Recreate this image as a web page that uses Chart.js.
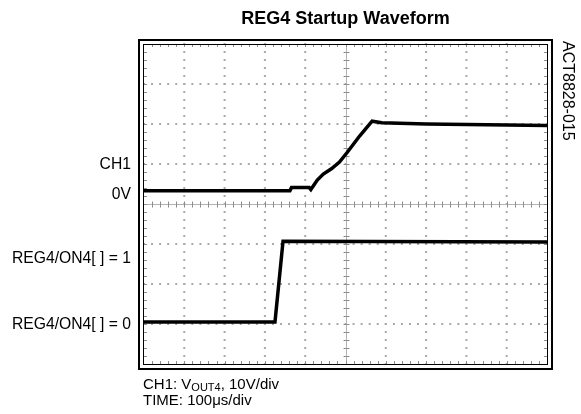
<!DOCTYPE html>
<html>
<head>
<meta charset="utf-8">
<script src="https://cdn.jsdelivr.net/npm/chart.js@4/dist/chart.umd.min.js"></script>
<style>
  html, body { margin: 0; padding: 0; background: #fff; }
  #wrap { width: 581px; height: 414px; position: relative; }
</style>
</head>
<body>
<div id="wrap"><canvas id="scopeChart"></canvas></div>
<script>
// time in divisions (100us/div), level in divisions
const ch1Time = [0, 3.62, 3.66, 4.1, 4.14, 4.3, 4.45, 4.65, 4.85, 5.05, 5.35, 5.66, 5.9, 7, 10];
const ch1Level = [0.33, 0.33, 0.41, 0.41, 0.36, 0.6, 0.75, 0.88, 1.05, 1.3, 1.7, 2.07, 2.03, 2.0, 1.96];
const onTime = [0, 3.25, 3.45, 10];
const onLevel = [-2.95, -2.95, -0.93, -0.95];

const titleText = 'REG4 Startup Waveform';
const leftLabels = [
    { text: 'CH1', level: 1.02 },
    { text: '0V', level: 0.27 },
    { text: 'REG4/ON4[ ] = 1', level: -1.32 },
    { text: 'REG4/ON4[ ] = 0', level: -2.98 }
];
const figureId = 'ACT8828-015';

const toPoints = (xs, ys) => xs.map((x, i) => ({ x: x, y: ys[i] }));
const FONT = '"Liberation Sans", Arial, sans-serif';

const scopePlugin = {
    id: 'scope',
    beforeDatasetsDraw(chart) {
        const ctx = chart.ctx;
        const xs = chart.scales.x, ys = chart.scales.y;
        const a = chart.chartArea;
        ctx.save();
        // dotted graticule
        ctx.fillStyle = '#a8a8a8';
        for (let i = 1; i < 10; i++) {
            if (i === 5) continue;
            const px = xs.getPixelForValue(i);
            for (let j = -20; j <= 20; j++) {
                const py = ys.getPixelForValue(j / 5);
                ctx.fillRect(px - 1, py - 1, 2, 2);
            }
        }
        for (let i = -3; i <= 3; i++) {
            if (i === 0) continue;
            const py = ys.getPixelForValue(i);
            for (let j = 0; j <= 50; j++) {
                const px = xs.getPixelForValue(j / 5);
                ctx.fillRect(px - 1, py - 1, 2, 2);
            }
        }
        // centre cross with minor ticks
        const cx = Math.round(xs.getPixelForValue(5)) + 0.5;
        const cy = Math.round(ys.getPixelForValue(0)) + 0.5;
        ctx.strokeStyle = '#b4b4b4';
        ctx.lineWidth = 1;
        ctx.beginPath();
        ctx.moveTo(a.left, cy); ctx.lineTo(a.right, cy);
        ctx.moveTo(cx, a.top); ctx.lineTo(cx, a.bottom);
        ctx.stroke();
        ctx.strokeStyle = '#8c8c8c';
        ctx.beginPath();
        for (let j = 1; j < 50; j++) {
            const px = Math.round(xs.getPixelForValue(j / 5)) + 0.5;
            ctx.moveTo(px, cy - 3); ctx.lineTo(px, cy + 3);
            ctx.moveTo(px, a.top); ctx.lineTo(px, a.top + 3);
            ctx.moveTo(px, a.bottom - 3); ctx.lineTo(px, a.bottom);
        }
        for (let j = -19; j < 20; j++) {
            const py = Math.round(ys.getPixelForValue(j / 5)) + 0.5;
            ctx.moveTo(cx - 3, py); ctx.lineTo(cx + 3, py);
            ctx.moveTo(a.left, py); ctx.lineTo(a.left + 3, py);
            ctx.moveTo(a.right - 3, py); ctx.lineTo(a.right, py);
        }
        ctx.stroke();
        ctx.restore();
    },
    afterDraw(chart) {
        const ctx = chart.ctx;
        const ys = chart.scales.y;
        const a = chart.chartArea;
        ctx.save();
        // double frame
        ctx.strokeStyle = '#000';
        ctx.lineWidth = 1;
        ctx.strokeRect(a.left - 0.5, a.top + 0.5, a.right - a.left + 1, a.bottom - a.top);
        ctx.lineWidth = 2;
        ctx.strokeRect(a.left - 5, a.top - 4, a.right - a.left + 10, a.bottom - a.top + 9);

        ctx.fillStyle = '#000';
        ctx.font = '15.7px ' + FONT;
        ctx.textAlign = 'right';
        ctx.textBaseline = 'middle';
        leftLabels.forEach(l => {
            ctx.fillText(l.text, 131, ys.getPixelForValue(l.level) + 1.5);
        });

        // notes under the plot
        ctx.font = '15px ' + FONT;
        ctx.textAlign = 'left';
        let x = a.left - 1;
        const y1 = a.bottom + 21;
        ctx.fillText('CH1: V', x, y1);
        x += ctx.measureText('CH1: V').width;
        ctx.font = '11px ' + FONT;
        ctx.fillText('OUT4', x, y1 + 3);
        x += ctx.measureText('OUT4').width;
        ctx.font = '15px ' + FONT;
        ctx.fillText(', 10V/div', x, y1);
        ctx.fillText('TIME: 100\u03bcs/div', a.left - 1, y1 + 16);

        // figure id, rotated
        ctx.font = '16px ' + FONT;
        ctx.translate(567, a.top - 3);
        ctx.rotate(Math.PI / 2);
        ctx.textAlign = 'left';
        ctx.fillText(figureId, 0, 0);
        ctx.restore();
    }
};

const ctx = document.getElementById('scopeChart');
const scopeChart = new Chart(ctx, {
    type: 'scatter',
    data: {
        datasets: [{
            data: toPoints(ch1Time, ch1Level),
            showLine: true,
            borderColor: '#000',
            borderWidth: 3.5,
            pointRadius: 0,
            tension: 0
        }, {
            data: toPoints(onTime, onLevel),
            showLine: true,
            borderColor: '#000',
            borderWidth: 3.5,
            pointRadius: 0,
            tension: 0
        }]
    },
    options: {
        responsive: true,
        maintainAspectRatio: false,
        animation: false,
        layout: {
            padding: { left: 144, right: 34, top: 0, bottom: 50 }
        },
        scales: {
            x: { type: 'linear', min: 0, max: 10, display: false },
            y: { type: 'linear', min: -4, max: 4, display: false }
        },
        plugins: {
            legend: { display: false },
            tooltip: { enabled: false },
            title: {
                display: true,
                text: titleText,
                color: '#000',
                font: { family: FONT, size: 18, weight: 'bold', lineHeight: 1.2 },
                padding: { top: 8, bottom: 14.4 }
            }
        }
    },
    plugins: [scopePlugin]
});
</script>
</body>
</html>
